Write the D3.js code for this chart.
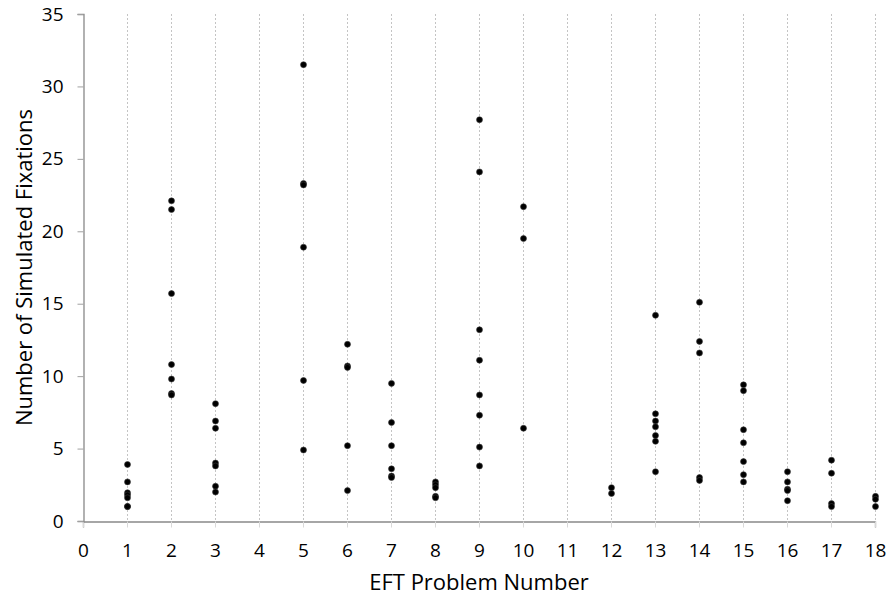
<!DOCTYPE html>
<html>
<head>
<meta charset="utf-8">
<script src="https://cdn.jsdelivr.net/npm/d3@7"></script>
<style>
	body { margin: 0; background: #fff; }
	svg { display: block; }
	text { font-family: "Open Sans", "Noto Sans", sans-serif; fill: #000; }
</style>
</head>
<body>
<svg id="chart" width="891" height="595"></svg>
<script>
// EFT problem numbers that have simulated runs
var problemNumbers = [1, 2, 3, 5, 6, 7, 8, 9, 10, 12, 13, 14, 15, 16, 17, 18];

// simulated fixation counts, one list per problem (same order as above)
var fixationsByProblem = [
	[3.9, 2.7, 1.95, 1.8, 1.6, 1.0, 1.0],
	[22.1, 21.5, 15.7, 10.8, 9.8, 8.8, 8.7],
	[8.1, 6.9, 6.4, 4.0, 3.8, 2.4, 2.0],
	[31.5, 23.3, 23.2, 18.9, 9.7, 4.9],
	[12.2, 10.7, 10.6, 5.2, 2.1],
	[9.5, 6.8, 5.2, 3.6, 3.1, 3.0],
	[2.7, 2.5, 2.3, 1.7, 1.6],
	[27.7, 24.1, 13.2, 11.1, 8.7, 7.3, 5.1, 3.8],
	[21.7, 19.5, 6.4],
	[2.3, 1.9],
	[14.2, 7.4, 6.9, 6.5, 5.9, 5.5, 3.4],
	[15.1, 12.4, 11.6, 3.0, 2.8],
	[9.4, 9.0, 6.3, 5.4, 4.1, 3.2, 2.7],
	[3.4, 2.7, 2.2, 2.1, 1.4],
	[4.2, 3.3, 1.2, 1.0],
	[1.7, 1.5, 1.0]
];

var xTicks = d3.range(0, 19);
var yTicks = [0, 5, 10, 15, 20, 25, 30, 35];

var xLabel = "EFT Problem Number";
var yLabel = "Number of Simulated Fixations";

var width = 891, height = 595;
var margin = {top: 14, right: 16, bottom: 74, left: 83};

var svg = d3.select("#chart");

var x = d3.scaleLinear()
	.domain([0, 18])
	.range([margin.left, width - margin.right]);

var y = d3.scaleLinear()
	.domain([0, 35])
	.range([height - margin.bottom, margin.top]);

// flatten to points
var points = [];
problemNumbers.forEach(function (p, i) {
	fixationsByProblem[i].forEach(function (v) {
		points.push({problem: p, value: v});
	});
});

// vertical dotted gridlines
svg.append("g")
	.attr("class", "grid")
	.selectAll("line")
	.data(xTicks.filter(function (d) { return d > 0; }))
	.join("line")
	.attr("x1", function (d) { return x(d) + 0.5; })
	.attr("x2", function (d) { return x(d) + 0.5; })
	.attr("y1", y(35))
	.attr("y2", y(0) + 6)
	.attr("stroke", "#c4c4c4")
	.attr("stroke-width", 1)
	.attr("stroke-dasharray", "2,2");

// x axis
var xAxis = svg.append("g")
	.attr("transform", "translate(0," + (y(0) + 0.5) + ")")
	.call(d3.axisBottom(x).tickValues(xTicks).tickSize(6).tickPadding(16).tickFormat(d3.format("d")));
xAxis.select(".domain").attr("stroke", "#898989").attr("stroke-width", 1.3);
xAxis.selectAll(".tick line").attr("stroke", "#d9d9d9");
xAxis.selectAll(".tick text")
	.attr("font-size", "19px")
	.attr("font-family", "\"Open Sans\", sans-serif");

// y axis
var yAxis = svg.append("g")
	.attr("transform", "translate(" + (x(0) + 0.5) + ",0)")
	.call(d3.axisLeft(y).tickValues(yTicks).tickSize(6).tickPadding(14).tickFormat(d3.format("d")));
yAxis.select(".domain").attr("stroke", "#898989").attr("stroke-width", 1.3);
yAxis.selectAll(".tick line").attr("stroke", "#a0a0a0");
yAxis.selectAll(".tick text")
	.attr("font-size", "19px")
	.attr("font-family", "\"Open Sans\", sans-serif");

// points
svg.append("g")
	.attr("class", "points")
	.selectAll("circle")
	.data(points)
	.join("circle")
	.attr("cx", function (d) { return x(d.problem) + 0.5; })
	.attr("cy", function (d) { return y(d.value); })
	.attr("r", 3.0)
	.attr("fill", "#000")
	.attr("stroke", "#3a3a3a")
	.attr("stroke-width", 0.6);

// axis titles
svg.append("text")
	.attr("x", (x(0) + x(18)) / 2)
	.attr("y", 590)
	.attr("text-anchor", "middle")
	.attr("font-size", "22px")
	.text(xLabel);

svg.append("text")
	.attr("transform", "translate(32," + ((y(0) + y(35)) / 2) + ") rotate(-90)")
	.attr("text-anchor", "middle")
	.attr("font-size", "22px")
	.text(yLabel);
</script>
</body>
</html>
